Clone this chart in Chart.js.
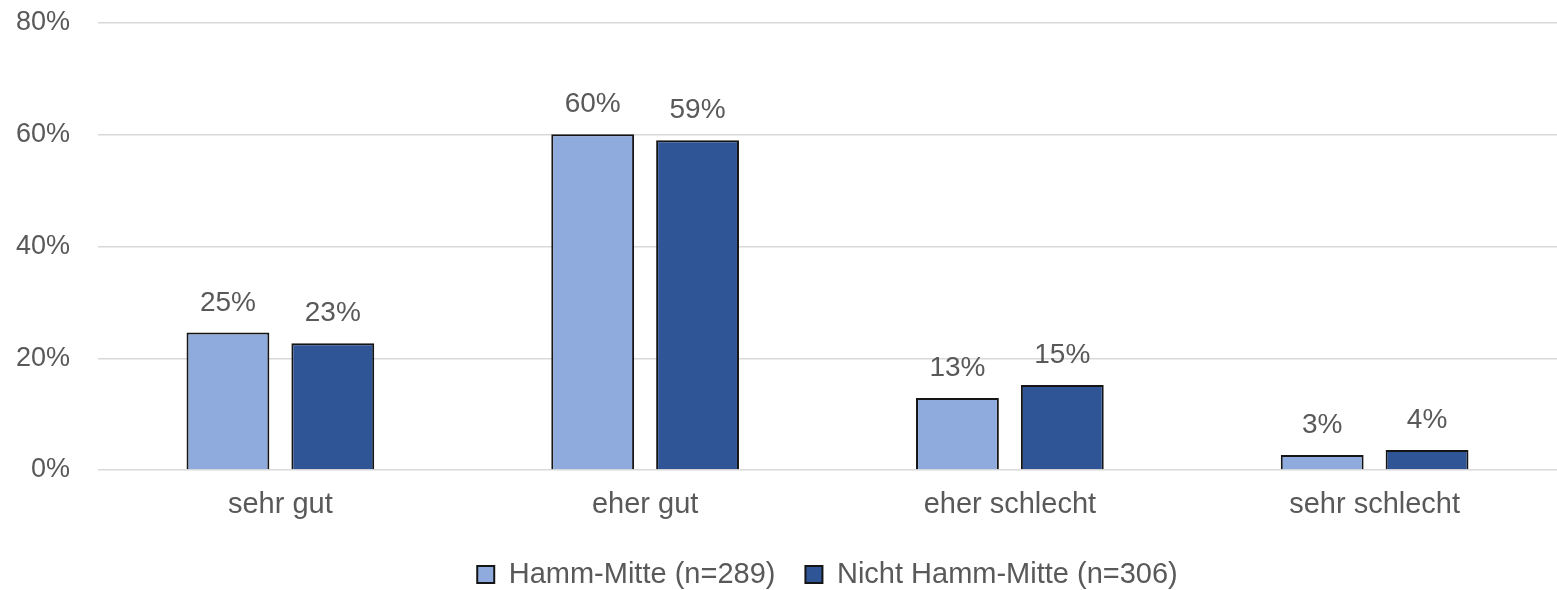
<!DOCTYPE html>
<html>
<head>
<meta charset="utf-8">
<script src="https://cdn.jsdelivr.net/npm/chart.js@4"></script>
<style>
  body { margin: 0; background: #fff; }
  #wrap { width: 1557px; height: 590px; position: relative; }
</style>
</head>
<body>
<div id="wrap"><canvas id="chart"></canvas></div>
<script>
// === DATEN ===
const kategorien = ["sehr gut", "eher gut", "eher schlecht", "sehr schlecht"];
const hammMitte = [24.6, 60.1, 12.9, 2.7];
const nichtHammMitte = [22.7, 59.0, 15.2, 3.6];
const serienNamen = ["Hamm-Mitte (n=289)", "Nicht Hamm-Mitte (n=306)"];
const yTicks = [0, 20, 40, 60, 80];

const textFarbe = "#595959";
const schrift = "'Liberation Sans', Arial, sans-serif";

// Werte über den Balken
const wertLabels = {
  id: "wertLabels",
  afterDatasetsDraw(chart) {
    const ctx = chart.ctx;
    ctx.save();
    ctx.font = "28px " + schrift;
    ctx.fillStyle = textFarbe;
    ctx.textAlign = "center";
    ctx.textBaseline = "alphabetic";
    chart.data.datasets.forEach((ds, i) => {
      chart.getDatasetMeta(i).data.forEach((bar, j) => {
        ctx.fillText(Math.round(ds.data[j]) + "%", bar.x, bar.y - 22);
      });
    });
    ctx.restore();
  }
};

new Chart(document.getElementById("chart"), {
  type: "bar",
  data: {
    labels: kategorien,
    datasets: [
      {
        label: serienNamen[0],
        data: hammMitte,
        backgroundColor: "#8FAADC",
        borderColor: "#151515",
        borderWidth: 2,
        borderSkipped: "bottom"
      },
      {
        label: serienNamen[1],
        data: nichtHammMitte,
        backgroundColor: "#2F5597",
        borderColor: "#151515",
        borderWidth: 2,
        borderSkipped: "bottom"
      }
    ]
  },
  options: {
    responsive: true,
    maintainAspectRatio: false,
    animation: false,
    categoryPercentage: 0.575,
    barPercentage: 0.79,
    layout: { padding: { left: 0, right: 0, top: 23, bottom: -9 } },
    scales: {
      x: {
        grid: { display: false, drawTicks: false },
        border: { display: false },
        ticks: { color: textFarbe, font: { family: schrift, size: 29 }, padding: 18 },
        afterFit: (axis) => { axis.height = 60; }
      },
      y: {
        min: 0,
        max: 80,
        afterBuildTicks: (axis) => { axis.ticks = yTicks.map(v => ({ value: v })); },
        grid: { color: "#d9d9d9", lineWidth: 1.5, drawTicks: false },
        border: { display: false },
        ticks: {
          color: textFarbe,
          font: { family: schrift, size: 27 },
          padding: 28,
          callback: (v) => v + "%"
        },
        afterFit: (axis) => { axis.width = 98; axis.paddingTop = 0; }
      }
    },
    plugins: {
      legend: {
        position: "bottom",
        fullSize: false,
        labels: {
          color: textFarbe,
          font: { family: schrift, size: 29 },
          boxWidth: 17,
          boxHeight: 17,
          padding: 30
        }
      },
      tooltip: { enabled: false }
    }
  },
  plugins: [wertLabels]
});
</script>
</body>
</html>
